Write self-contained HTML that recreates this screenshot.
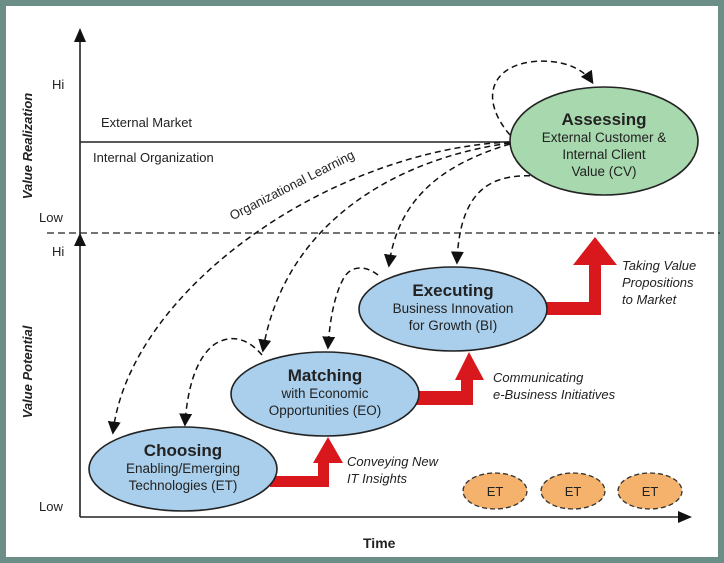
<!DOCTYPE html>
<html><head><meta charset="utf-8"><style>
html,body{margin:0;padding:0;background:#fff}
svg{display:block}
text{font-family:"Liberation Sans",sans-serif;fill:#222}
</style></head><body>
<svg width="724" height="563" viewBox="0 0 724 563" xmlns="http://www.w3.org/2000/svg">
<defs>
<marker id="ah2" viewBox="0 0 10 10" refX="8" refY="5" markerWidth="13" markerHeight="13" orient="auto" markerUnits="userSpaceOnUse">
<path d="M0,0 L10,5 L0,10 z" fill="#111"/></marker>
</defs>
<rect x="0" y="0" width="724" height="563" fill="#6b8f87"/>
<rect x="6" y="6" width="712" height="551" fill="#fff"/>
<line x1="80" y1="517" x2="80" y2="40" stroke="#222" stroke-width="1.6"/>
<path d="M74,42 L80,28 L86,42 z" fill="#111"/>
<path d="M74,246 L80,233 L86,246 z" fill="#111"/>
<line x1="80" y1="517" x2="680" y2="517" stroke="#222" stroke-width="1.6"/>
<path d="M678,511 L692,517 L678,523 z" fill="#111"/>
<line x1="80" y1="142" x2="512" y2="142" stroke="#222" stroke-width="1.4"/>
<line x1="47" y1="233" x2="720" y2="233" stroke="#222" stroke-width="1.3" stroke-dasharray="7,4"/>
<text x="52" y="89" font-size="13">Hi</text>
<text x="39" y="222" font-size="13">Low</text>
<text x="52" y="256" font-size="13">Hi</text>
<text x="39" y="511" font-size="13">Low</text>
<text x="363" y="548" font-size="14" font-weight="bold">Time</text>
<text transform="translate(32,146) rotate(-90)" text-anchor="middle" font-size="13" font-weight="bold" font-style="italic">Value Realization</text>
<text transform="translate(32,372) rotate(-90)" text-anchor="middle" font-size="13" font-weight="bold" font-style="italic">Value Potential</text>
<text x="101" y="127" font-size="13">External Market</text>
<text x="93" y="162" font-size="13">Internal Organization</text>
<text transform="translate(294,189) rotate(-27)" text-anchor="middle" font-size="13">Organizational Learning</text>
<g fill="none" stroke="#111" stroke-width="1.5" stroke-dasharray="6,4" marker-end="url(#ah2)">
<path d="M510,142 C330,150 130,290 113,432"/>
<path d="M510,143 C400,158 285,220 263,350"/>
<path d="M510,144 C440,165 398,200 389,265"/>
<path d="M540,176 C500,174 460,180 457,262"/>
<path d="M510,135 C480,100 490,68 530,62 C560,58 583,68 592,82"/>
<path d="M262,355 C245,335 228,336 215,344 C195,358 187,392 185,424"/>
<path d="M378,275 C365,265 352,266 345,276 C335,292 330,318 328,347"/>
</g>
<g fill="#d8181d">
<path d="M270,476 L318,476 L318,463 L313,463 L328,437 L343,463 L329,463 L329,487 L270,487 z"/>
<path d="M412,391 L461,391 L461,380 L455,380 L469,352 L484,380 L473,380 L473,405 L412,405 z"/>
<path d="M540,302 L589,302 L589,265 L573,265 L595,237 L617,265 L601,265 L601,315 L540,315 z"/>
</g>
<g stroke="#222" stroke-width="1.6">
<ellipse cx="604" cy="141" rx="94" ry="54" fill="#a8d8ae"/>
<ellipse cx="453" cy="309" rx="94" ry="42" fill="#a9cfec"/>
<ellipse cx="325" cy="394" rx="94" ry="42" fill="#a9cfec"/>
<ellipse cx="183" cy="469" rx="94" ry="42" fill="#a9cfec"/>
</g>
<g stroke="#333" stroke-width="1.3" stroke-dasharray="5,3" fill="#f4b26c">
<ellipse cx="495" cy="491" rx="32" ry="18"/>
<ellipse cx="573" cy="491" rx="32" ry="18"/>
<ellipse cx="650" cy="491" rx="32" ry="18"/>
</g>
<g font-size="13" text-anchor="middle">
<text x="495" y="496">ET</text><text x="573" y="496">ET</text><text x="650" y="496">ET</text>
</g>
<g text-anchor="middle" font-size="13.5">
<text x="604" y="125" font-size="17" font-weight="bold">Assessing</text>
<text x="604" y="142">External Customer &amp;</text>
<text x="604" y="159">Internal Client</text>
<text x="604" y="176">Value (CV)</text>
<text x="453" y="296" font-size="17" font-weight="bold">Executing</text>
<text x="453" y="313">Business Innovation</text>
<text x="453" y="330">for Growth (BI)</text>
<text x="325" y="381" font-size="17" font-weight="bold">Matching</text>
<text x="325" y="398">with Economic</text>
<text x="325" y="415">Opportunities (EO)</text>
<text x="183" y="456" font-size="17" font-weight="bold">Choosing</text>
<text x="183" y="473">Enabling/Emerging</text>
<text x="183" y="490">Technologies (ET)</text>
</g>
<g font-size="13" font-style="italic">
<text x="347" y="466">Conveying New</text>
<text x="347" y="483">IT Insights</text>
<text x="493" y="382">Communicating</text>
<text x="493" y="399">e-Business Initiatives</text>
<text x="622" y="270">Taking Value</text>
<text x="622" y="287">Propositions</text>
<text x="622" y="304">to Market</text>
</g>
</svg>
</body></html>
